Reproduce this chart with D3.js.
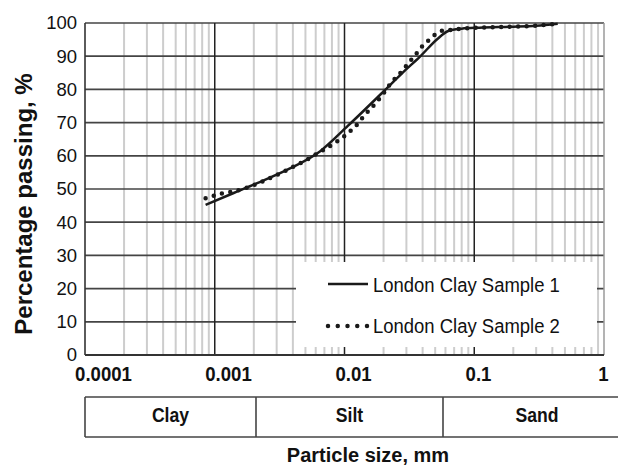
<!DOCTYPE html>
<html>
<head>
<meta charset="utf-8">
<script src="https://cdn.jsdelivr.net/npm/d3@7"></script>
<style>
  body { margin: 0; background: #fff; }
  text { font-family: "Liberation Sans", Arial, sans-serif; fill: #111; }
</style>
</head>
<body>
<div id="chart"></div>
<script>
// values: particle size (mm) and % passing
var sample1Size = [0.00085, 0.0014, 0.0021, 0.0038, 0.0065, 0.0106, 0.0205, 0.028, 0.038, 0.052, 0.063, 0.08, 0.11, 0.19, 0.3, 0.44];
var sample1Pass = [45.2, 48.8, 51.7, 56.2, 61.4, 69.0, 79.8, 85.0, 89.8, 95.2, 97.6, 98.3, 98.6, 98.9, 99.2, 99.8];

var sample2Size = [0.00085, 0.00099, 0.00114, 0.00133, 0.0017, 0.0025, 0.0038, 0.005, 0.0065, 0.0075, 0.0086, 0.0099, 0.0112, 0.0127, 0.0141, 0.016, 0.0178, 0.0198, 0.0224, 0.0249, 0.0282, 0.0309, 0.0349, 0.0389, 0.044, 0.0507, 0.0574, 0.0674, 0.08, 0.11, 0.19, 0.3, 0.44];
var sample2Pass = [47.2, 48.0, 48.7, 49.1, 50.2, 52.8, 56.2, 58.6, 61.2, 62.6, 64.1, 65.8, 67.6, 69.7, 72.0, 74.3, 76.3, 78.6, 81.5, 83.6, 85.8, 87.8, 90.2, 92.6, 94.6, 96.7, 97.7, 97.9, 98.3, 98.6, 98.9, 99.2, 99.8];

var seriesNames = ["London Clay Sample 1", "London Clay Sample 2"];
var yTicks = [0, 10, 20, 30, 40, 50, 60, 70, 80, 90, 100];
var xTicks = [0.0001, 0.001, 0.01, 0.1, 1];
var xTickLabels = ["0.0001", "0.001", "0.01", "0.1", "1"];
var soilClasses = ["Clay", "Silt", "Sand"];

var svgWidth = 618;
var svgHeight = 467;
var chartMargin = { top: 23, right: 14, bottom: 112, left: 85 };
var chartWidth = svgWidth - chartMargin.left - chartMargin.right;
var chartHeight = svgHeight - chartMargin.top - chartMargin.bottom;

var svg = d3.select("#chart")
  .append("svg")
  .attr("width", svgWidth)
  .attr("height", svgHeight)
  .style("display", "block");

svg.append("rect").attr("width", svgWidth).attr("height", svgHeight).attr("fill", "#fff");

var chartGroup = svg.append("g")
  .attr("transform", `translate(${chartMargin.left}, ${chartMargin.top})`);

var x = d3.scaleLog().domain([0.0001, 1]).range([0, chartWidth]);
var y = d3.scaleLinear().domain([0, 100]).range([chartHeight, 0]);

// minor log grid (2..9 in each decade)
var minor = [];
xTicks.slice(0, -1).forEach(function(d) {
  for (var k = 2; k <= 9; k++) minor.push(d * k);
});

chartGroup.selectAll(".minor")
  .data(minor)
  .enter()
  .append("line")
  .attr("x1", d => x(d)).attr("x2", d => x(d))
  .attr("y1", 0).attr("y2", chartHeight)
  .attr("stroke", "#cdcdcd")
  .attr("stroke-width", 2);

chartGroup.selectAll(".hgrid")
  .data(yTicks.slice(1))
  .enter()
  .append("line")
  .attr("x1", 0).attr("x2", chartWidth)
  .attr("y1", d => y(d)).attr("y2", d => y(d))
  .attr("stroke", "#444")
  .attr("stroke-width", 1.7);

chartGroup.selectAll(".decade")
  .data(xTicks.slice(1, -1))
  .enter()
  .append("line")
  .attr("x1", d => x(d)).attr("x2", d => x(d))
  .attr("y1", 0).attr("y2", chartHeight)
  .attr("stroke", "#222")
  .attr("stroke-width", 1.5);

// right edge
chartGroup.append("line")
  .attr("x1", chartWidth).attr("x2", chartWidth)
  .attr("y1", 0).attr("y2", chartHeight)
  .attr("stroke", "#9a9a9a").attr("stroke-width", 1.5);

// left and bottom axis lines
chartGroup.append("line")
  .attr("x1", 0).attr("x2", 0).attr("y1", 0).attr("y2", chartHeight)
  .attr("stroke", "#333").attr("stroke-width", 1.6);
chartGroup.append("line")
  .attr("x1", 0).attr("x2", chartWidth).attr("y1", chartHeight).attr("y2", chartHeight)
  .attr("stroke", "#333").attr("stroke-width", 1.8);

// legend box hides the grid underneath
chartGroup.append("rect")
  .attr("x", 211).attr("y", 239)
  .attr("width", 301).attr("height", 85)
  .attr("fill", "#fff");

// curves
var line = d3.line()
  .x(d => x(d[0]))
  .y(d => y(d[1]))
  .curve(d3.curveMonotoneX);

var data1 = sample1Size.map((d, i) => [d, sample1Pass[i]]);
var data2 = sample2Size.map((d, i) => [d, sample2Pass[i]]);

chartGroup.append("path")
  .datum(data2)
  .attr("d", line)
  .attr("fill", "none")
  .attr("stroke", "#1a1a1a")
  .attr("stroke-width", 4.5)
  .attr("stroke-linecap", "round")
  .attr("stroke-dasharray", "0,8.5");

chartGroup.append("path")
  .datum(data1)
  .attr("d", line)
  .attr("fill", "none")
  .attr("stroke", "#1a1a1a")
  .attr("stroke-width", 2.5);

// y axis labels
var yAxis = d3.axisLeft(y).tickValues(yTicks).tickSize(0).tickPadding(8);
var yg = chartGroup.append("g").call(yAxis);
yg.select(".domain").remove();
yg.selectAll("text")
  .attr("font-family", null)
  .attr("font-size", "18.5px")
  .attr("fill", "#111");

// x axis labels sit on their own evenly spaced scale in the original
var xLabelScale = d3.scaleLog().domain([0.0001, 1]).range([18, 518]);
var xAxis = d3.axisBottom(xLabelScale)
  .tickValues(xTicks)
  .tickSize(0)
  .tickFormat((d, i) => xTickLabels[i]);
var xg = chartGroup.append("g")
  .attr("transform", `translate(0, ${chartHeight})`)
  .call(xAxis);
xg.select(".domain").remove();
xg.selectAll("text")
  .attr("font-family", null)
  .attr("font-size", "20px")
  .attr("font-weight", "bold")
  .attr("fill", "#111")
  .attr("transform", "scale(0.93,1)")
  .attr("y", 26)
  .attr("dy", null);

// y title
svg.append("text")
  .attr("transform", "translate(32, 204) rotate(-90)")
  .attr("text-anchor", "middle")
  .attr("font-size", "24px")
  .attr("font-weight", "bold")
  .text("Percentage passing, %");

// legend
var legend = svg.append("g");
legend.append("line")
  .attr("x1", 328).attr("x2", 368).attr("y1", 284).attr("y2", 284)
  .attr("stroke", "#1a1a1a").attr("stroke-width", 2.5);
legend.append("line")
  .attr("x1", 328).attr("x2", 368).attr("y1", 326).attr("y2", 326)
  .attr("stroke", "#1a1a1a").attr("stroke-width", 4.5)
  .attr("stroke-linecap", "round")
  .attr("stroke-dasharray", "0,9.75");
legend.selectAll(".ltext")
  .data(seriesNames)
  .enter()
  .append("text")
  .attr("transform", (d, i) => `translate(373, ${292 + i * 41}) scale(0.88,1)`)
  .attr("font-size", "21px")
  .text(d => d);

// soil classification strip
var cellEdges = [85, 256, 443, 631];
var strip = svg.append("g");
strip.append("line").attr("x1", 85).attr("x2", 618).attr("y1", 397).attr("y2", 397)
  .attr("stroke", "#444").attr("stroke-width", 1.6);
strip.append("line").attr("x1", 85).attr("x2", 618).attr("y1", 437).attr("y2", 437)
  .attr("stroke", "#444").attr("stroke-width", 1.6);
strip.selectAll(".edge")
  .data(cellEdges.slice(0, -1))
  .enter()
  .append("line")
  .attr("x1", d => d).attr("x2", d => d)
  .attr("y1", 397).attr("y2", 437)
  .attr("stroke", "#444").attr("stroke-width", 1.6);
strip.selectAll(".cls")
  .data(soilClasses)
  .enter()
  .append("text")
  .attr("transform", (d, i) => `translate(${(cellEdges[i] + cellEdges[i + 1]) / 2}, 422) scale(0.88,1)`)
  .attr("text-anchor", "middle")
  .attr("font-size", "20px")
  .attr("font-weight", "bold")
  .text(d => d);

svg.append("text")
  .attr("x", 368)
  .attr("y", 462)
  .attr("text-anchor", "middle")
  .attr("font-size", "20px")
  .attr("font-weight", "bold")
  .text("Particle size, mm");
</script>
</body>
</html>
